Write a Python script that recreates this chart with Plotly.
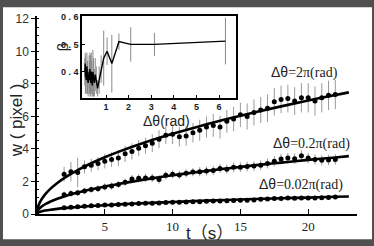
import plotly.graph_objects as go

# ---------------- data ----------------
t = [2.0, 2.5, 3.0, 3.5, 4.0, 4.5, 5.0, 5.5, 6.0, 6.5, 7.0, 7.5, 8.0, 8.5, 9.0, 9.5,
     10.0, 10.5, 11.0, 11.5, 12.0, 12.5, 13.0, 13.5, 14.0, 14.5, 15.0, 15.5, 16.0,
     16.5, 17.0, 17.5, 18.0, 18.5, 19.0, 19.5, 20.0, 20.5, 21.0, 21.5, 22.0]

w_2pi = [2.45, 2.6, 2.55, 2.9, 3.0, 3.1, 3.25, 3.35, 3.45, 3.7, 3.85, 4.05, 4.2, 4.35,
         4.6, 4.85, 4.9, 4.75, 4.8, 5.0, 5.15, 5.35, 5.45, 5.35, 5.7, 5.85, 6.1, 6.0,
         6.25, 6.4, 6.5, 6.9, 7.05, 7.1, 6.95, 7.15, 7.15, 6.95, 7.15, 7.3, 7.35]
e_2pi = [0.45, 0.6, 0.9, 0.4, 0.4, 0.4, 0.45, 0.45, 0.5, 0.5, 0.5, 0.5, 0.5, 0.55,
         0.55, 0.55, 0.6, 0.6, 0.6, 0.6, 0.65, 0.65, 0.7, 0.7, 0.7, 0.75, 0.75, 0.8,
         0.8, 0.8, 0.85, 0.85, 0.85, 0.85, 0.85, 0.9, 0.9, 0.9, 0.9, 0.9, 0.9]

w_02pi = [1.18, 1.26, 1.3, 1.42, 1.5, 1.56, 1.66, 1.72, 1.82, 1.95, 2.15, 2.2, 2.22,
          2.22, 2.12, 2.38, 2.44, 2.4, 2.5, 2.58, 2.6, 2.64, 2.68, 2.8, 2.76, 2.88,
          2.88, 2.92, 2.95, 3.0, 3.1, 3.25, 3.38, 3.44, 3.4, 3.58, 3.44, 3.36, 3.3,
          3.32, 3.36]
e_02pi = [0.2, 0.2, 0.2, 0.2, 0.2, 0.2, 0.22, 0.22, 0.22, 0.22, 0.25, 0.25, 0.25,
          0.25, 0.25, 0.25, 0.25, 0.25, 0.25, 0.25, 0.28, 0.28, 0.28, 0.28, 0.28,
          0.3, 0.3, 0.3, 0.3, 0.3, 0.3, 0.32, 0.32, 0.32, 0.32, 0.35, 0.32, 0.32,
          0.32, 0.32, 0.32]

w_002pi = [0.38, 0.42, 0.45, 0.48, 0.5, 0.53, 0.55, 0.56, 0.58, 0.6, 0.62, 0.64, 0.66,
           0.66, 0.68, 0.7, 0.72, 0.73, 0.74, 0.76, 0.76, 0.78, 0.8, 0.8, 0.82, 0.83,
           0.84, 0.84, 0.86, 0.9, 0.92, 0.95, 0.96, 0.98, 0.97, 0.98, 0.98, 0.99, 1.0,
           1.02, 1.04]
e_002pi = [0.08] * 41

# fitted curves
t_fit = [0, 0.1, 0.3, 0.6, 1, 1.5, 2, 3, 4, 5, 6, 8, 10, 12, 14, 16, 18, 20, 22, 23]
fit_2pi = [0, 0.49, 0.85, 1.21, 1.56, 1.91, 2.21, 2.70, 3.12, 3.49, 3.82, 4.41, 4.93,
           5.40, 5.84, 6.24, 6.62, 6.98, 7.32, 7.48]
fit_02pi = [0, 0.25, 0.43, 0.60, 0.77, 0.94, 1.08, 1.32, 1.52, 1.69, 1.85, 2.13, 2.38,
            2.60, 2.80, 2.99, 3.16, 3.33, 3.48, 3.56]
fit_002pi = [0, 0.093, 0.152, 0.21, 0.263, 0.316, 0.36, 0.43, 0.49, 0.54, 0.59, 0.67,
             0.74, 0.81, 0.86, 0.92, 0.97, 1.01, 1.06, 1.08]

# inset: beta vs delta theta
dtheta = [0.063, 0.079, 0.090, 0.105, 0.126, 0.157, 0.180, 0.209, 0.251, 0.262, 0.273,
          0.286, 0.299, 0.314, 0.331, 0.349, 0.370, 0.393, 0.419, 0.449, 0.483, 0.524,
          0.571, 0.628, 0.698, 0.785, 0.898, 1.047, 1.257, 1.571, 2.094, 3.142, 6.283]
beta = [0.40, 0.43, 0.38, 0.41, 0.37, 0.42, 0.38, 0.36, 0.40, 0.38, 0.37, 0.41, 0.37,
        0.39, 0.36, 0.40, 0.38, 0.35, 0.40, 0.38, 0.36, 0.39, 0.37, 0.34, 0.37, 0.41,
        0.45, 0.475, 0.43, 0.51, 0.50, 0.50, 0.512]
beta_err = [0.05, 0.04, 0.06, 0.05, 0.05, 0.05, 0.06, 0.05, 0.06, 0.06, 0.05, 0.06,
            0.06, 0.07, 0.05, 0.07, 0.06, 0.04, 0.08, 0.07, 0.05, 0.06, 0.05, 0.03,
            0.05, 0.05, 0.10, 0.05, 0.105, 0.03, 0.063, 0.042, 0.085]

labels = ["Δθ=2π(rad)", "Δθ=0.2π(rad)", "Δθ=0.02π(rad)"]

# ---------------- figure ----------------
fig = go.Figure()

for w, e in [(w_2pi, e_2pi), (w_02pi, e_02pi), (w_002pi, e_002pi)]:
    fig.add_trace(go.Scatter(
        x=t, y=w, mode="markers",
        marker=dict(color="black", size=5),
        error_y=dict(type="data", array=e, visible=True, color="#9a9a9a",
                     thickness=1, width=0),
        xaxis="x", yaxis="y", showlegend=False))

for f in [fit_2pi, fit_02pi, fit_002pi]:
    fig.add_trace(go.Scatter(
        x=t_fit, y=f, mode="lines", line=dict(color="black", width=2.6, shape="spline"),
        xaxis="x", yaxis="y", showlegend=False))

fig.add_trace(go.Scatter(
    x=dtheta, y=beta, mode="lines", line=dict(color="black", width=1.4),
    error_y=dict(type="data", array=beta_err, visible=True, color="#8a8a8a",
                 thickness=1, width=0),
    xaxis="x2", yaxis="y2", showlegend=False))

L, R, T, B = 37, 17, 12, 31
W, H = 374, 246
pw, ph = W - L - R, H - T - B


def px(X):
    return (X - L) / pw


def py(Y):
    return (H - B - Y) / ph


fig.update_layout(
    width=W, height=H,
    margin=dict(l=L, r=R, t=T, b=B, pad=0),
    paper_bgcolor="#505050",
    plot_bgcolor="rgba(0,0,0,0)",
    font=dict(family="Liberation Sans", color="#222"),
    xaxis=dict(
        domain=[0, 1], range=[0, 23.6], showgrid=False, zeroline=False,
        showline=True, linecolor="black", linewidth=1.5, mirror=False,
        ticks="inside", ticklen=5, tickcolor="black", tickwidth=1,
        tickvals=[5, 10, 15, 20],
        tickfont=dict(family="Liberation Serif", size=13, color="#222"),
    ),
    yaxis=dict(
        domain=[0, 1], range=[0, 12.18], showgrid=False, zeroline=False,
        showline=True, linecolor="black", linewidth=1.5,
        ticks="outside", ticklen=4, tickcolor="black", tickwidth=1,
        tickvals=[0, 2, 4, 6, 8, 10, 12],
        tickfont=dict(family="Liberation Sans", size=12, color="#333"),
        minor=dict(dtick=0.5, ticks="inside", ticklen=2, tickcolor="black"),
    ),
    xaxis2=dict(
        domain=[px(82), px(236)], range=[-0.062, 6.75], anchor="y2",
        showgrid=False, zeroline=False, showline=True, mirror=True,
        linecolor="black", linewidth=1.5,
        ticks="inside", ticklen=3, tickcolor="black",
        tickvals=[1, 2, 3, 4, 5, 6],
        tickfont=dict(family="Liberation Sans", size=9, color="#222", weight="bold"),
    ),
    yaxis2=dict(
        domain=[py(96), 1], range=[0.305, 0.6035], anchor="x2",
        showgrid=False, zeroline=False, showline=True, mirror=True,
        linecolor="black", linewidth=1.5,
        ticks="inside", ticklen=3, tickcolor="black",
        tickvals=[0.4, 0.5, 0.6], ticktext=["0 . 4", "0 . 5", "0 . 6"],
        tickfont=dict(family="Liberation Sans", size=9, color="#222", weight="bold"),
    ),
    shapes=[dict(type="rect", xref="paper", yref="paper",
                 x0=px(3), x1=px(372), y0=py(241), y1=py(3),
                 fillcolor="white", line=dict(width=0), layer="below")],
)

ann_font = dict(family="Liberation Serif", size=14, color="#222")
for text, X, Y in [(labels[0], 304, 70), (labels[1], 311, 143), (labels[2], 301, 185)]:
    fig.add_annotation(
        text=text.replace("Δθ", "<span style='font-family:Liberation Sans'>Δθ</span>"),
        x=px(X), y=py(Y), xref="paper", yref="paper", showarrow=False,
        font=ann_font, xanchor="center", yanchor="middle")

fig.add_annotation(text="t（s）", x=px(209), y=py(235), xref="paper", yref="paper",
                   showarrow=False, xanchor="center", yanchor="middle",
                   font=dict(family="Liberation Sans, Noto Sans CJK SC", size=17, color="#222"))
fig.add_annotation(text="w ( pixel )", x=px(16), y=py(119), xref="paper", yref="paper",
                   showarrow=False, textangle=-90, xanchor="center", yanchor="middle",
                   font=dict(family="Liberation Sans", size=17, color="#222"))
fig.add_annotation(text="β", x=px(62), y=py(44), xref="paper", yref="paper",
                   showarrow=False, textangle=-90, xanchor="center", yanchor="middle",
                   font=dict(family="Liberation Sans", size=15, color="#222"))
fig.add_annotation(text="Δθ(rad)", x=px(166), y=py(120), xref="paper", yref="paper",
                   showarrow=False, xanchor="center", yanchor="middle",
                   font=dict(family="Liberation Sans", size=14, color="#222"))

fig.write_html("out.html", config={"displayModeBar": False},
               post_script="document.body.style.margin='0';document.body.style.overflow='hidden';")
